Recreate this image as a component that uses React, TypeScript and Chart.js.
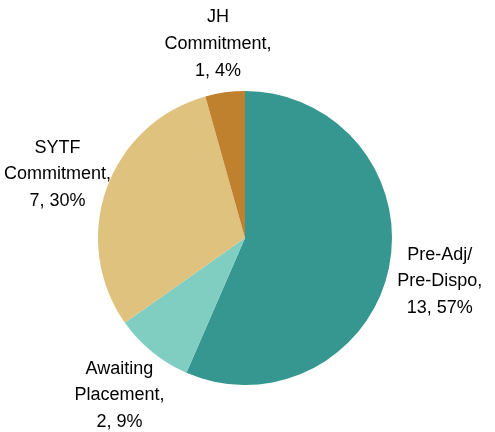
import React, { useEffect, useRef } from "react";
import { Chart, registerables } from "chart.js";

Chart.register(...registerables);

const categories = ["Pre-Adj/\nPre-Dispo", "Awaiting\nPlacement", "SYTF\nCommitment", "JH\nCommitment"];
const values = [13, 2, 7, 1];
const percents = ["57%", "9%", "30%", "4%"];
const colors = ["#35978f", "#80cdc1", "#dfc27d", "#bf812d"];

const outsideLabels = {
  id: "outsideLabels",
  afterDatasetsDraw(chart: any) {
    const ctx = chart.ctx;
    const meta = chart.getDatasetMeta(0);
    ctx.save();
    ctx.font = '18px "Liberation Sans", Arial, sans-serif';
    ctx.fillStyle = "#000";
    ctx.textAlign = "center";
    ctx.textBaseline = "middle";
    const lh = 26.7;
    meta.data.forEach((arc: any, i: number) => {
      const mid = (arc.startAngle + arc.endAngle) / 2;
      const r = arc.outerRadius + 52;
      const cx = arc.x + Math.cos(mid) * r;
      const cy = arc.y + Math.sin(mid) * r + 3;
      const lines = categories[i].split("\n");
      lines[lines.length - 1] += ",";
      lines.push(values[i] + ", " + percents[i]);
      const top = cy - ((lines.length - 1) * lh) / 2;
      lines.forEach((ln, k) => ctx.fillText(ln, cx, top + k * lh));
    });
    ctx.restore();
  },
};

export default function App() {
  const ref = useRef<HTMLCanvasElement>(null);
  useEffect(() => {
    const chart = new Chart(ref.current!, {
      type: "pie",
      data: {
        labels: categories,
        datasets: [
          {
            data: values,
            backgroundColor: colors,
            borderWidth: 0,
          },
        ],
      },
      options: {
        animation: false,
        responsive: false,
        layout: { padding: { top: 91, bottom: 47, left: 98, right: 103 } },
        plugins: { legend: { display: false }, tooltip: { enabled: false } },
      },
      plugins: [outsideLabels],
    });
    return () => chart.destroy();
  }, []);
  return (
    <div style={{ position: "fixed", left: 0, top: 0, width: 495, height: 432, background: "#fff" }}>
      <canvas ref={ref} width={495} height={432} />
    </div>
  );
}
